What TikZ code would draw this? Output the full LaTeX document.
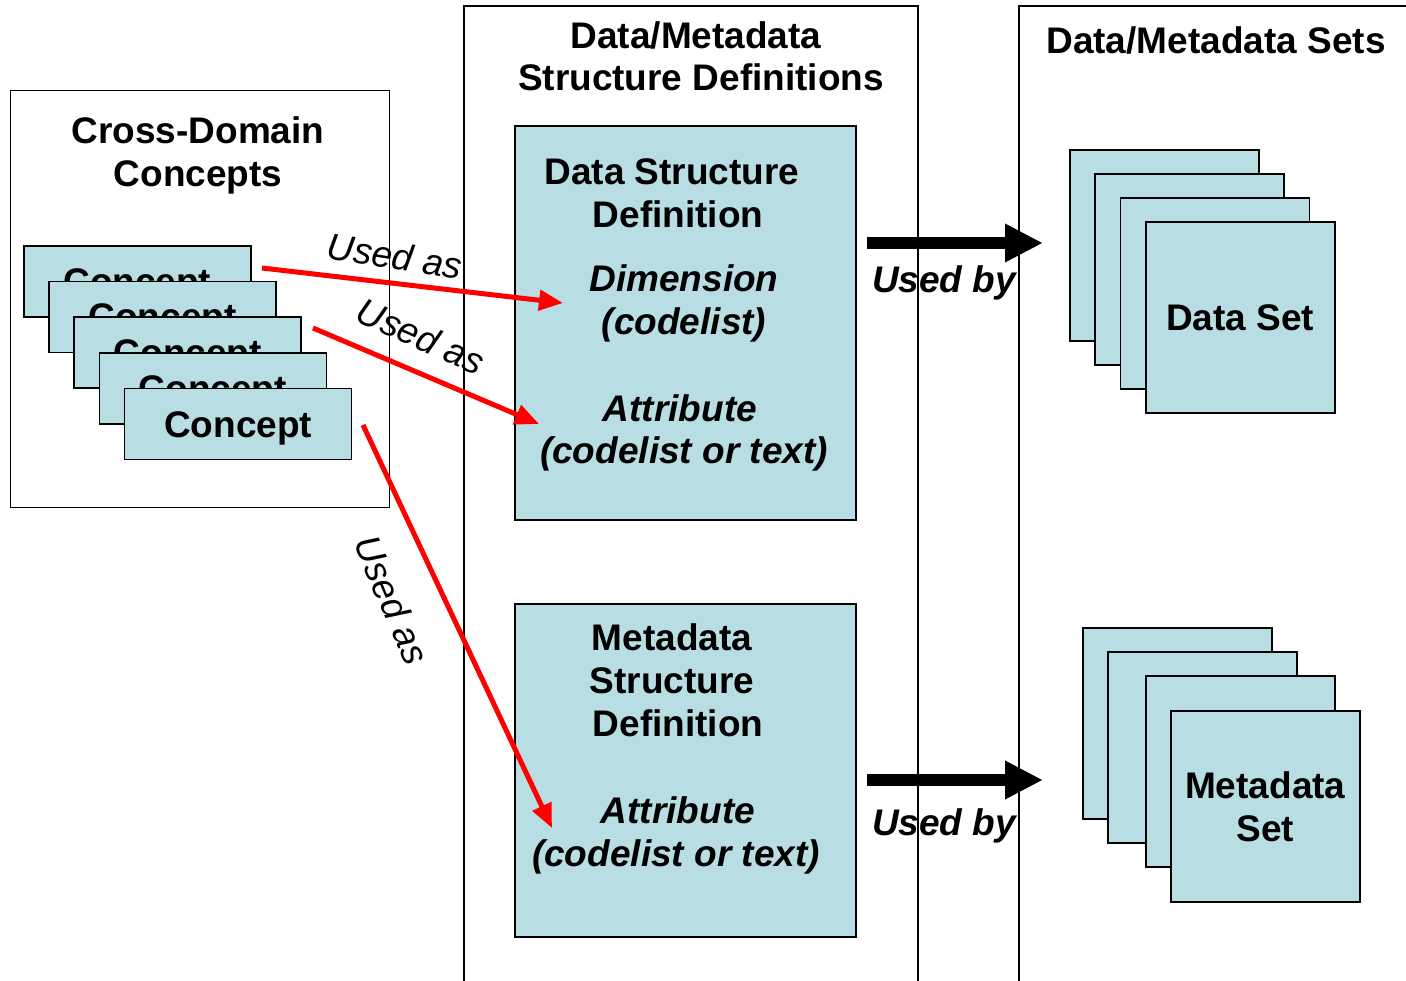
\documentclass[tikz,border=0pt]{standalone}
\usepackage{fontspec}
\setmainfont{Liberation Sans}
\usetikzlibrary{arrows.meta}
\definecolor{sheet}{RGB}{184,221,227}

\begin{document}
\begin{tikzpicture}[x=1pt,y=-1pt,
    big/.style={font=\fontsize{37}{43}\selectfont\bfseries},
    bigit/.style={font=\fontsize{37}{43}\selectfont\bfseries\itshape},
    card/.style={draw=black,line width=1.6pt,fill=sheet,anchor=north west,inner sep=0pt,align=center,big},
    concept/.style={card,minimum width=227pt,minimum height=71pt,text depth=0pt},
    dataset/.style={card,minimum width=189pt,minimum height=191pt},
    panel/.style={draw=black,line width=1.3pt},
    usedas/.style={draw=red,line width=5pt,-{Triangle[length=24pt,width=20pt]}},
    usedby/.style={draw=black,line width=12pt,-{Triangle[length=38pt,width=36pt]}},
    tag/.style={font=\fontsize{37}{43}\selectfont\itshape}]
  \useasboundingbox (0,0) rectangle (1406,981);

  \node[panel,anchor=north west,minimum width=379pt,minimum height=417pt] (cdc) at (10,90) {};
  \draw[panel] (464,981) |- (918,6) -- (918,981);
  \draw[panel] (1019,981) |- (1406,6);

  \node[big,anchor=base] (cdct1) at (198,144) {Cross-Domain};
  \node[big,anchor=base] (cdct2) at (198,187) {Concepts};
  \node[big,anchor=base] (sdt1) at (696,49) {Data/Metadata};
  \node[big,anchor=base] (sdt2) at (701,91) {Structure Definitions};
  \node[big,anchor=base] (sett) at (1216,54) {Data/Metadata Sets};

  \foreach \i in {0,...,4} {\node[concept] (c\i) at ({23+25.2*\i},{245+35.7*\i}) {Concept};};

  \node[card,minimum width=341pt,minimum height=394pt] (dsd) at (514,125) {};
  \node[big,anchor=base] (dsdt1) at (672,185) {Data Structure};
  \node[big,anchor=base] (dsdt2) at (678,228) {Definition};
  \node[bigit,anchor=base] (dim1) at (684,292) {Dimension};
  \node[bigit,anchor=base] (dim2) at (684,335) {(codelist)};
  \node[bigit,anchor=base] (att1) at (680,421) {Attribute};
  \node[bigit,anchor=base] (att2) at (684,464) {(codelist or text)};

  \node[card,minimum width=341pt,minimum height=333pt] (msd) at (514,603) {};
  \node[big,anchor=base] (msdt1) at (672,650) {Metadata};
  \node[big,anchor=base] (msdt2) at (672,693) {Structure};
  \node[big,anchor=base] (msdt3) at (678,736) {Definition};
  \node[bigit,anchor=base] (matt1) at (678,823) {Attribute};
  \node[bigit,anchor=base] (matt2) at (676,866) {(codelist or text)};

  \foreach \i in {0,1,2} {\node[dataset] (ds\i) at ({1069+25.3*\i},{149+24*\i}) {};};
  \node[dataset] (ds) at (1145,221) {Data Set};

  \foreach \x/\y [count=\n] in {1082/627,1107/651,1145/675} {\node[dataset] (ms\n) at (\x,\y) {};};
  \node[dataset] (ms) at (1170,710) {Metadata\\Set};

  \coordinate (from1) at (262,268);
  \coordinate (from2) at (313,328);
  \coordinate (from3) at (363,425);
  \coordinate (to1) at (563,303);
  \coordinate (to2) at (539,424);
  \coordinate (to3) at (552,828);
  \path (from1) edge[usedas] (to1)
        (from2) edge[usedas] (to2)
        (from3) edge[usedas] (to3);
  \node[tag,rotate=-9] (ua1) at (395,256) {Used as};
  \node[tag,rotate=-24] (ua2) at (421,336) {Used as};
  \node[tag,rotate=-67] (ua3) at (392,600) {Used as};

  \coordinate (out1) at (867,243);
  \coordinate (in1) at (1043,243);
  \coordinate (out2) at (867,780);
  \coordinate (in2) at (1043,780);
  \path (out1) edge[usedby] (in1)
        (out2) edge[usedby] (in2);
  \node[bigit,anchor=base] (ub1) at (944,293) {Used by};
  \node[bigit,anchor=base] (ub2) at (944,835) {Used by};
\end{tikzpicture}
\end{document}
